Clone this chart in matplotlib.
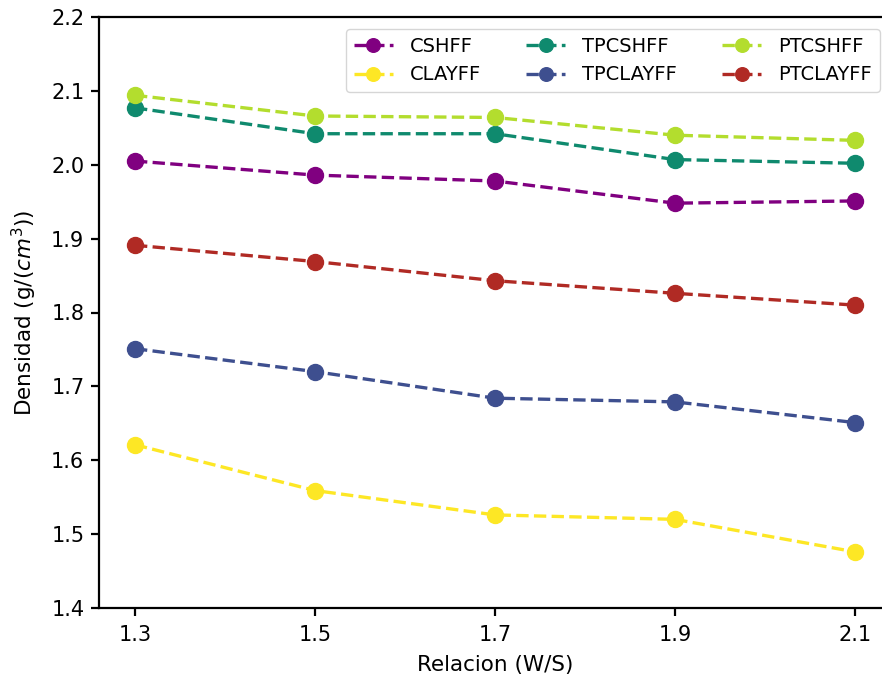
import matplotlib
matplotlib.use("Agg")
import matplotlib.pyplot as plt

x = [1.3, 1.5, 1.7, 1.9, 2.1]
xticklabels = ["1.3", "1.5", "1.7", "1.9", "2.1"]
cshff = [2.005, 1.986, 1.978, 1.948, 1.951]
clayff = [1.621, 1.559, 1.526, 1.520, 1.476]
tpcshff = [2.077, 2.042, 2.042, 2.007, 2.002]
tpclayff = [1.751, 1.720, 1.684, 1.679, 1.651]
ptcshff = [2.094, 2.066, 2.064, 2.040, 2.033]
ptclayff = [1.891, 1.869, 1.843, 1.826, 1.810]

fig = plt.figure(figsize=(8.82, 6.79), dpi=100)
ax = fig.add_axes([99/882, 1-608/679, (891-99)/882, (608-17)/679])

series = [
    ("CSHFF", cshff, "#800080"),
    ("CLAYFF", clayff, "#fde725"),
    ("TPCSHFF", tpcshff, "#0f8a6e"),
    ("TPCLAYFF", tpclayff, "#3e4f8f"),
    ("PTCSHFF", ptcshff, "#b3dd2e"),
    ("PTCLAYFF", ptclayff, "#b02a24"),
]
for name, vals, c in series:
    ax.plot(x, vals, "--o", color=c, label=name, markersize=11.5, linewidth=2.4)

for s in ax.spines.values():
    s.set_linewidth(1.6)
ax.tick_params(width=1.6, length=5.5)
ax.tick_params(axis="x", pad=7)
ax.tick_params(axis="y", pad=5)

ax.set_ylim(1.4, 2.2)
ax.set_xlim(1.26, 2.14)
ax.set_xticks(x)
ax.set_xticklabels(xticklabels)
ax.tick_params(labelsize=15)
ax.set_xlabel("Relacion (W/S)", fontsize=15.5, labelpad=7)
ax.set_ylabel("Densidad (g/($cm^3$))", fontsize=15.5, labelpad=9)
ax.legend(ncol=3, loc="upper right", bbox_to_anchor=(880/882, 1-29/679),
          bbox_transform=fig.transFigure, fontsize=14, borderaxespad=0,
          columnspacing=2.3, handletextpad=0.9, markerscale=0.85)
fig.savefig("out.png", dpi=100)
